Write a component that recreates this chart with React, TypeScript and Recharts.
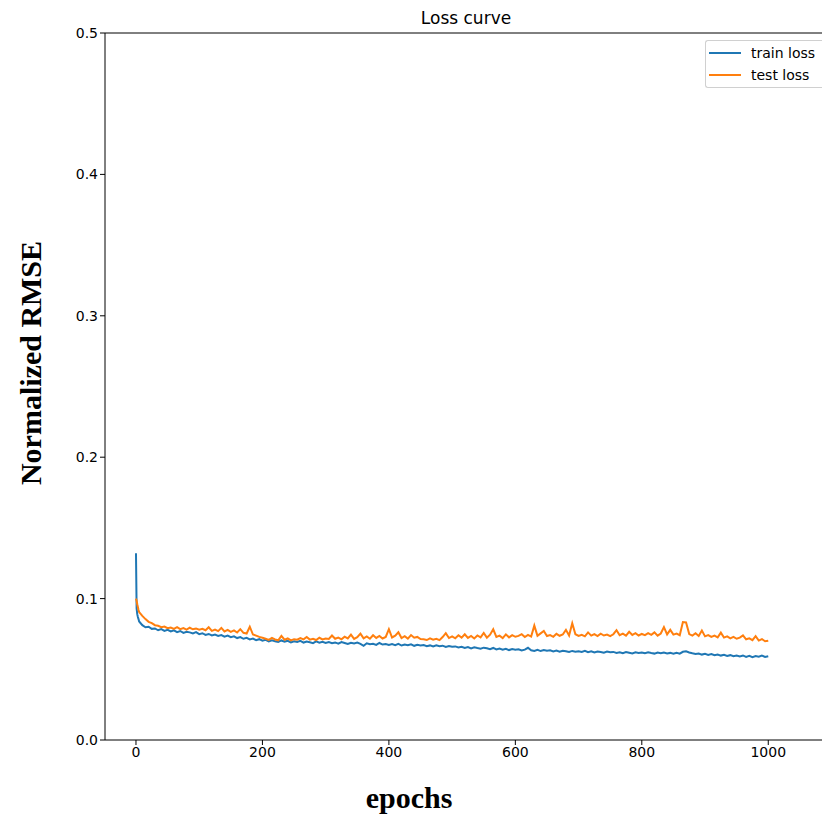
import {
  LineChart,
  Line,
  XAxis,
  YAxis,
  ReferenceLine,
} from 'recharts'

// epochs 0..4 are listed one by one (steep drop), then every 5 epochs
const EARLY_EPOCHS = [0, 1, 2, 3, 4]
const STEP_EPOCHS = Array.from({ length: 200 }, (_, i) => (i + 1) * 5)
const EPOCHS = [...EARLY_EPOCHS, ...STEP_EPOCHS]

const TRAIN_LOSS = [
  0.132, 0.093, 0.089, 0.087, 0.0855,
  0.0838, 0.0812, 0.0797, 0.0801, 0.0786, 0.0789, 0.0776, 0.0784, 0.0772, 0.0779,
  0.0768, 0.0776, 0.0763, 0.0771, 0.0758, 0.0766, 0.0761, 0.0754, 0.0763, 0.0749,
  0.0755, 0.0743, 0.075, 0.0739, 0.0746, 0.0736, 0.0742, 0.0731, 0.0738, 0.0727,
  0.0733, 0.0721, 0.0728, 0.0716, 0.0722, 0.0711, 0.0717, 0.0706, 0.0713, 0.0702,
  0.0708, 0.0697, 0.0705, 0.0699, 0.0693, 0.0704, 0.0696, 0.0701, 0.069, 0.0698,
  0.0693, 0.0701, 0.0689, 0.0696, 0.0691, 0.0685, 0.0697, 0.0688, 0.0694, 0.0686,
  0.0692, 0.0684, 0.069, 0.0681, 0.0693, 0.0686, 0.0679, 0.0688, 0.0683, 0.0689,
  0.068, 0.0666, 0.0684, 0.0677, 0.0681, 0.0673, 0.0686, 0.0675, 0.0679, 0.0672,
  0.0678, 0.0671, 0.068, 0.0668, 0.0675, 0.067, 0.0677, 0.0666, 0.0673, 0.0669,
  0.0672, 0.0664, 0.0669, 0.0661, 0.067, 0.0663, 0.0667, 0.0658, 0.0665, 0.066,
  0.0662, 0.0654, 0.0659, 0.0651, 0.0657, 0.0648, 0.0655, 0.065, 0.0646, 0.0653,
  0.0649, 0.0642, 0.0651, 0.064, 0.0647, 0.0638, 0.0645, 0.0636, 0.0643, 0.0639,
  0.0641, 0.0633, 0.0639, 0.0652, 0.0635, 0.063, 0.0638, 0.0629, 0.0636, 0.0631,
  0.0634, 0.0626, 0.0632, 0.0624, 0.0631, 0.0627, 0.0622, 0.063, 0.0625, 0.0628,
  0.0623, 0.0631, 0.0621, 0.0628, 0.0619, 0.0626, 0.0622, 0.0617, 0.0625, 0.062,
  0.0623, 0.0616, 0.0621, 0.0614, 0.0622, 0.0617, 0.0612, 0.062, 0.0615, 0.0619,
  0.0613, 0.062, 0.0615, 0.0611, 0.0618, 0.0613, 0.0619, 0.0612, 0.0616, 0.061,
  0.0617, 0.0611, 0.0624, 0.0628, 0.0619, 0.0613, 0.0608, 0.0612, 0.0604, 0.0609,
  0.0602, 0.0608, 0.0599, 0.0605, 0.0597, 0.0603, 0.0594, 0.06, 0.0592, 0.0598,
  0.0591, 0.0598, 0.0588, 0.0595, 0.0586, 0.0594, 0.0589, 0.0597, 0.0587, 0.0592,
]

const TEST_LOSS = [
  0.1, 0.0985, 0.096, 0.094, 0.092,
  0.0905, 0.0878, 0.0855, 0.0836, 0.0826, 0.0812, 0.0808, 0.0798, 0.0802, 0.0791,
  0.0795, 0.0786, 0.0798, 0.0784, 0.0792, 0.0781, 0.0794, 0.0783, 0.0789, 0.078,
  0.0786, 0.0776, 0.0797, 0.0772, 0.0781, 0.077, 0.0793, 0.0768, 0.0779, 0.0765,
  0.0775, 0.076, 0.0784, 0.0758, 0.0753, 0.0801, 0.0746, 0.0738, 0.0729, 0.0723,
  0.0716, 0.0708, 0.0722, 0.0711, 0.0705, 0.0736, 0.0709, 0.0718, 0.0704, 0.0713,
  0.0709, 0.0721, 0.0712, 0.0729, 0.071, 0.0716, 0.0707, 0.0723, 0.0711, 0.0718,
  0.0714, 0.0739, 0.0716, 0.0724, 0.0712, 0.0731, 0.0718, 0.0745, 0.0715, 0.0727,
  0.0752, 0.0719, 0.0733, 0.0716, 0.0741, 0.0722, 0.0736, 0.0718, 0.0729, 0.0784,
  0.0725, 0.0738, 0.0762, 0.0721, 0.0734, 0.0717, 0.0742, 0.0723, 0.0729, 0.0714,
  0.0712, 0.0707, 0.0719, 0.0709, 0.0715, 0.0706, 0.0728, 0.0756, 0.0721, 0.0733,
  0.0719, 0.0741, 0.0724, 0.0748, 0.0722, 0.0736, 0.0718, 0.0739, 0.0726, 0.0757,
  0.0724, 0.0745, 0.0783, 0.0729, 0.0738, 0.0721, 0.0747, 0.0726, 0.0742, 0.073,
  0.0736, 0.0748, 0.0728, 0.0743, 0.0731, 0.0809, 0.0737, 0.0754, 0.0771, 0.0735,
  0.0742, 0.073, 0.0751, 0.0737, 0.0746, 0.0779, 0.0739, 0.0825, 0.0748, 0.0736,
  0.0744, 0.0733, 0.0761, 0.0738, 0.0749, 0.0735, 0.0752, 0.0739, 0.0746, 0.0734,
  0.0748, 0.0777, 0.0741, 0.0752, 0.0738, 0.0765, 0.0743, 0.0755, 0.0739, 0.075,
  0.0742, 0.0756, 0.0744, 0.0761, 0.0738, 0.0753, 0.0798, 0.0747, 0.0779, 0.0745,
  0.0752, 0.0741, 0.0834, 0.0831, 0.0749, 0.0738, 0.0755, 0.0736, 0.0774, 0.0733,
  0.0742, 0.0729, 0.0738, 0.0726, 0.0759, 0.0724, 0.0733, 0.0719, 0.0729, 0.0716,
  0.0724, 0.074, 0.0712, 0.0719, 0.0706, 0.0735, 0.0703, 0.0714, 0.0698, 0.0702,
]

const X_TICKS = [0, 200, 400, 600, 800, 1000]
const Y_TICKS = [0, 0.1, 0.2, 0.3, 0.4, 0.5]

const TRAIN_COLOR = '#1f77b4'
const TEST_COLOR = '#ff7f0e'
const SANS = '"DejaVu Sans", sans-serif'
const SERIF = '"Liberation Serif", "Times New Roman", serif'

const data = EPOCHS.map((epoch, i) => ({
  epoch,
  train: TRAIN_LOSS[i],
  test: TEST_LOSS[i],
}))

const LEGEND_ITEMS = [
  { name: 'train loss', color: TRAIN_COLOR },
  { name: 'test loss', color: TEST_COLOR },
]

function LossLegend() {
  return (
    <div
      style={{
        position: 'absolute',
        left: 705,
        top: 40,
        width: 117,
        height: 48,
        border: '1px solid #d0d0d0',
        borderRight: 'none',
        borderRadius: '3px 0 0 3px',
        background: '#fff',
        fontFamily: SANS,
        fontSize: 14,
        color: '#000',
        paddingTop: 1,
        boxSizing: 'border-box',
      }}
    >
      {LEGEND_ITEMS.map((it) => (
        <div
          key={it.name}
          style={{ display: 'flex', alignItems: 'center', height: 22 }}
        >
          <span
            style={{
              display: 'inline-block',
              width: 32,
              height: 2,
              background: it.color,
              marginLeft: 3,
              marginRight: 10,
            }}
          />
          <span>{it.name}</span>
        </div>
      ))}
    </div>
  )
}

export default function App() {
  return (
    <div style={{ position: 'absolute', left: 0, top: 0, width: 822, height: 820, background: '#fff' }}>
      <LineChart
        width={822}
        height={820}
        data={data}
        margin={{ top: 33, right: 0, bottom: 0, left: 0 }}
      >
        <XAxis
          dataKey="epoch"
          type="number"
          domain={[-49, 1085]}
          allowDataOverflow
          ticks={X_TICKS}
          height={80}
          stroke="#000"
          tickSize={5}
          tick={{ fill: '#000', fontSize: 14, fontFamily: SANS }}
        />
        <YAxis
          type="number"
          domain={[0, 0.5]}
          ticks={Y_TICKS}
          width={105}
          stroke="#000"
          tickSize={5}
          tickFormatter={(v: number) => v.toFixed(1)}
          tick={{ fill: '#000', fontSize: 14, fontFamily: SANS }}
        />
        <ReferenceLine y={0.5} stroke="#000" strokeWidth={1} />
        <Line
          dataKey="train"
          name="train loss"
          stroke={TRAIN_COLOR}
          strokeWidth={2}
          dot={false}
          isAnimationActive={false}
        />
        <Line
          dataKey="test"
          name="test loss"
          stroke={TEST_COLOR}
          strokeWidth={2}
          dot={false}
          isAnimationActive={false}
        />
        <text
          x={466}
          y={24}
          textAnchor="middle"
          fontFamily={SANS}
          fontSize={17}
          fill="#000"
        >
          Loss curve
        </text>
        <text
          x={409}
          y={808}
          textAnchor="middle"
          fontFamily={SERIF}
          fontWeight="bold"
          fontSize={30}
          fill="#000"
        >
          epochs
        </text>
        <text
          x={41}
          y={363}
          transform="rotate(-90 41 363)"
          textAnchor="middle"
          fontFamily={SERIF}
          fontWeight="bold"
          fontSize={30}
          fill="#000"
        >
          Normalized RMSE
        </text>
      </LineChart>
      <LossLegend />
    </div>
  )
}
